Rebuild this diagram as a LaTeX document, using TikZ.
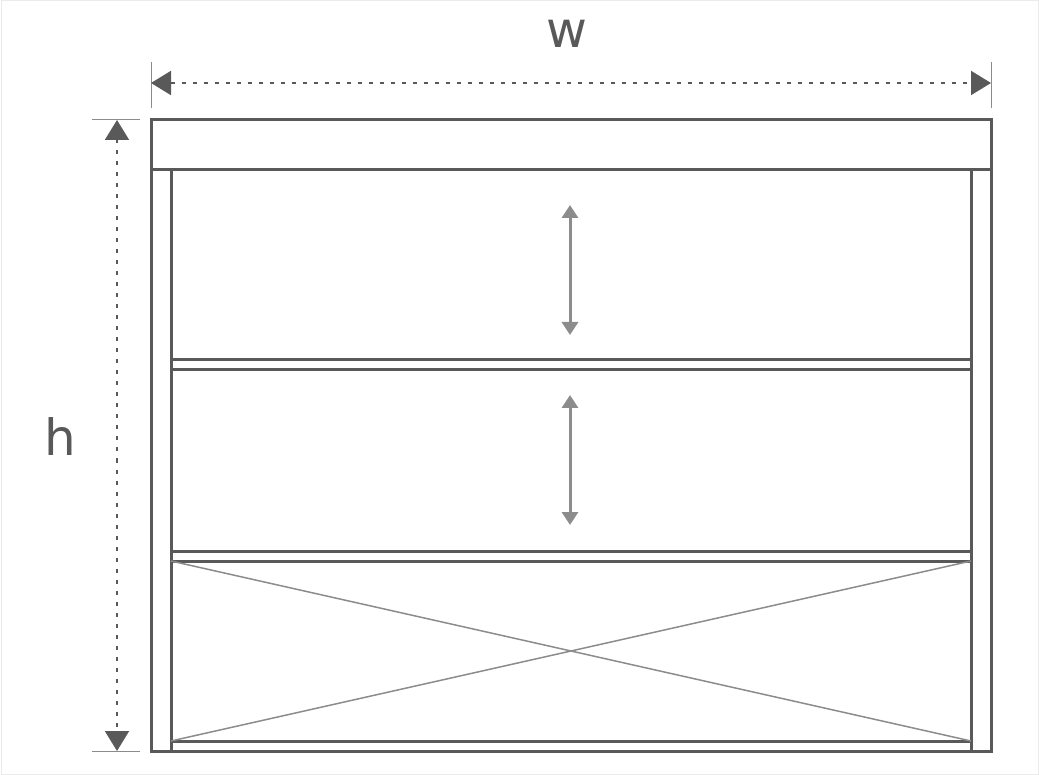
\documentclass[tikz,border=0pt]{standalone}
\usepackage{fontspec}
\setmainfont{DejaVu Sans}
\usetikzlibrary{arrows.meta}
\definecolor{frame}{HTML}{595959}
\definecolor{light}{HTML}{8C8C8C}
\begin{document}
\begin{tikzpicture}[x=1pt,y=-1pt,
  frameline/.style={draw=frame,line width=3pt},
  crossline/.style={draw=light,line width=1.5pt},
  dimline/.style={draw=frame,line width=2pt,dash pattern=on 4pt off 7pt,{Triangle[length=20pt,width=24pt]}-{Triangle[length=20pt,width=24pt]}},
  tickline/.style={draw=frame!70,line width=1pt},
  moveline/.style={draw=light,line width=3pt,{Triangle[length=13pt,width=16pt]}-{Triangle[length=13pt,width=16pt]}}]
	\useasboundingbox (0,0) rectangle (1039,775);
	\draw[draw=black!8,line width=1pt] (1,1) rectangle (1038,774);
	% frame
	\draw[frameline] (151,120) rectangle (991,751);
	\draw[frameline] (151,170) -- (991,170);
	\draw[frameline] (171,170) -- (171,751);
	\draw[frameline] (971,170) -- (971,751);
	\draw[frameline] (171,360) -- (971,360);
	\draw[frameline] (171,370) -- (971,370);
	\draw[frameline] (171,551) -- (971,551);
	\draw[frameline] (171,561) -- (971,561);
	\draw[frameline] (171,741) -- (971,741);
	% cross
	\coordinate (ptl) at (171,561);
	\coordinate (ptr) at (971,561);
	\coordinate (pbl) at (171,741);
	\coordinate (pbr) at (971,741);
	\draw[crossline] (ptl) -- (pbr);
	\draw[crossline] (ptr) -- (pbl);
	% movement arrows
	\coordinate (m1a) at (570,205);
	\coordinate (m1b) at (570,335);
	\coordinate (m2a) at (570,395);
	\coordinate (m2b) at (570,525);
	\draw[moveline] (m1a) -- (m1b);
	\draw[moveline] (m2a) -- (m2b);
	% dimensions
	\coordinate (wl) at (151,83);
	\coordinate (wr) at (991,83);
	\coordinate (ht) at (117,120);
	\coordinate (hb) at (117,751);
	\draw[tickline] (151,62) -- (151,108);
	\draw[tickline] (991,62) -- (991,108);
	\draw[tickline] (92,120) -- (140,120);
	\draw[tickline] (92,751) -- (140,751);
	\draw[dimline] (wl) -- (wr);
	\draw[dimline] (ht) -- (hb);
	\node[text=frame,font=\fontsize{50}{50}\selectfont] (wlabel) at (567,34) {w};
	\node[text=frame,font=\fontsize{50}{50}\selectfont] (hlabel) at (60,437) {h};
\end{tikzpicture}
\end{document}
